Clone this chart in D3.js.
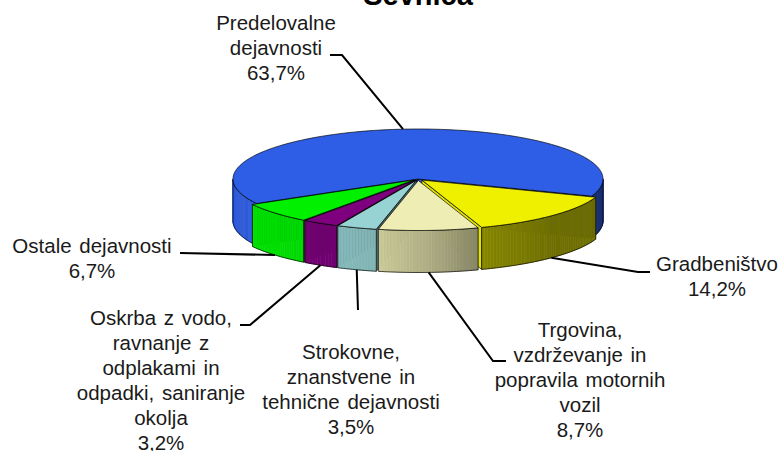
<!DOCTYPE html>
<html><head><meta charset="utf-8">
<script src="https://cdn.jsdelivr.net/npm/d3@7"></script>
<style>body{margin:0;background:#fff;} svg{display:block;}</style>
</head><body>
<svg id="chart" width="781" height="451"></svg>
<script>
// ---------- data ----------
const title = "Sevnica";
const categories = [
  "Predelovalne dejavnosti",
  "Gradbeništvo",
  "Trgovina, vzdrževanje in popravila motornih vozil",
  "Strokovne, znanstvene in tehnične dejavnosti",
  "Oskrba z vodo, ravnanje z odplakami in odpadki, saniranje okolja",
  "Ostale dejavnosti"
];
const values = [63.7, 14.2, 8.7, 3.5, 3.2, 6.7];
const percentLabels = ["63,7%", "14,2%", "8,7%", "3,5%", "3,2%", "6,7%"];
const labelLines = [
  ["Predelovalne", "dejavnosti"],
  ["Gradbeništvo"],
  ["Trgovina,", "vzdrževanje in", "popravila motornih", "vozil"],
  ["Strokovne,", "znanstvene in", "tehnične dejavnosti"],
  ["Oskrba z vodo,", "ravnanje z", "odplakami in", "odpadki, saniranje", "okolja"],
  ["Ostale dejavnosti"]
];

// ---------- styles / layout ----------
const palette = ["#2E5EE6", "#EFEF00", "#EEEDB4", "#97D3D3", "#7F007F", "#00F000"];
const geom = {cx: 418, cy: 179, rx: 185, ry: 50, depth: 42, explode: 0.03};
const startDeg = -119.3;
const lineH = 25;
const labelLayout = [
  {x: 276, y: 30, path: [[342, 55], [330, 55]], top: true},
  {x: 717, y: 271, path: [[638, 272], [650, 272]]},
  {x: 580, y: 337, path: [[493, 361], [506, 361]]},
  {x: 351, y: 359, path: [[358, 310]]},
  {x: 161, y: 325, path: [[250, 325], [240, 325]]},
  {x: 92, y: 253, path: [[180, 253]]}
];
// side-wall brightness by facing angle (degrees, clockwise from back)
const light = d3.scaleLinear()
  .domain([90, 110, 135, 161, 176, 192, 205, 240, 270])
  .range([0.52, 0.46, 0.46, 0.56, 0.72, 0.85, 0.88, 0.94, 0.95])
  .clamp(true);

const svg = d3.select("#chart");
const pie = d3.pie().sort(null).value(d => d)
  .startAngle(startDeg * Math.PI / 180)
  .endAngle(startDeg * Math.PI / 180 + 2 * Math.PI);
const arcs = pie(values);

function offset(d, i) {
  const e = i === 0 ? 0 : geom.explode;
  const m = (d.startAngle + d.endAngle) / 2;
  return [geom.rx * e * Math.sin(m), -geom.ry * e * Math.cos(m)];
}
function P(t, r, off, h) {
  return [geom.cx + off[0] + geom.rx * r * Math.sin(t),
          geom.cy + off[1] - geom.ry * r * Math.cos(t) + h];
}
function shade(color, t) {
  let deg = (t * 180 / Math.PI) % 360; if (deg < 0) deg += 360;
  if (deg < 90) deg = 90; if (deg > 270) deg = 270;
  const f = light(deg);
  const c = d3.rgb(color);
  return d3.rgb(c.r * f, c.g * f, c.b * f).toString();
}
const line = d3.line();
const outline = "rgba(0,0,0,0.75)";
const D = geom.depth;

// collect walls
const walls = [];
arcs.forEach((d, i) => {
  const off = offset(d, i);
  const col = palette[i];
  const a = d.startAngle, b = d.endAngle;
  for (let k = -1; k <= 2; k++) {
    const lo = Math.PI / 2 + 2 * Math.PI * k, hi = 3 * Math.PI / 2 + 2 * Math.PI * k;
    const s = Math.max(a, lo), e = Math.min(b, hi);
    if (e > s) {
      walls.push({
        depth: -Math.cos((s + e) / 2),
        draw: g => {
          const n = Math.max(1, Math.ceil((e - s) / (Math.PI / 180)));
          for (let j = 0; j < n; j++) {
            const t0 = s + (e - s) * j / n, t1 = s + (e - s) * (j + 1) / n;
            const c = shade(col, (t0 + t1) / 2);
            g.append("path")
              .attr("d", line([P(t0, 1, off, 0), P(t1, 1, off, 0), P(t1, 1, off, D), P(t0, 1, off, D)]) + "Z")
              .attr("fill", c).attr("stroke", c).attr("stroke-width", 0.6);
          }
          const topPts = d3.range(n + 1).map(j => P(s + (e - s) * j / n, 1, off, 0));
          const botPts = d3.range(n, -1, -1).map(j => P(s + (e - s) * j / n, 1, off, D));
          g.append("path").attr("d", line(topPts.concat(botPts)) + "Z")
            .attr("fill", "none").attr("stroke", outline).attr("stroke-width", 0.9);
        }
      });
    }
  }
  [[a, a - Math.PI / 2], [b, b + Math.PI / 2]].forEach(([t, nrm]) => {
    if (Math.cos(nrm) < -0.01) {
      walls.push({
        depth: -0.5 * Math.cos(t),
        draw: g => {
          g.append("path")
            .attr("d", line([P(t, 0, off, 0), P(t, 1, off, 0), P(t, 1, off, D), P(t, 0, off, D)]) + "Z")
            .attr("fill", shade(col, nrm)).attr("stroke", outline).attr("stroke-width", 0.9);
        }
      });
    }
  });
});

const gPie = svg.append("g");
walls.sort((p, q) => p.depth - q.depth).forEach(w => w.draw(gPie));

// tops
arcs.forEach((d, i) => {
  const off = offset(d, i);
  const n = Math.max(2, Math.ceil((d.endAngle - d.startAngle) / (Math.PI / 180)));
  const pts = [P(0, 0, off, 0)].concat(
    d3.range(n + 1).map(j => P(d.startAngle + (d.endAngle - d.startAngle) * j / n, 1, off, 0)));
  gPie.append("path").attr("d", line(pts) + "Z")
    .attr("fill", palette[i]).attr("stroke", outline).attr("stroke-width", 0.9)
    .attr("stroke-linejoin", "round");
});

// leader lines
arcs.forEach((d, i) => {
  const off = offset(d, i);
  const m = (d.startAngle + d.endAngle) / 2;
  const lay = labelLayout[i];
  const start = P(m, 1, off, lay.top ? 0 : D);
  svg.append("path").attr("d", line([start].concat(lay.path)))
    .attr("fill", "none").attr("stroke", "#000").attr("stroke-width", 2);
});

// labels
const gLab = svg.append("g")
  .attr("font-family", "'Liberation Sans', Arial, sans-serif")
  .attr("font-size", "20.5px").attr("fill", "#1a1a1a")
  .attr("text-anchor", "middle").style("word-spacing", "2px");
arcs.forEach((d, i) => {
  const lay = labelLayout[i];
  const lines = labelLines[i].concat([percentLabels[i]]);
  const t = gLab.append("text");
  lines.forEach((s, k) => {
    t.append("tspan").attr("x", lay.x).attr("y", lay.y + k * lineH).text(s);
  });
});

// title
svg.append("text").attr("x", 418).attr("y", 5)
  .attr("text-anchor", "middle")
  .attr("font-family", "'Liberation Sans', Arial, sans-serif")
  .attr("font-weight", "bold").attr("font-size", "29px").attr("fill", "#000")
  .text(title);
</script>
</body></html>
